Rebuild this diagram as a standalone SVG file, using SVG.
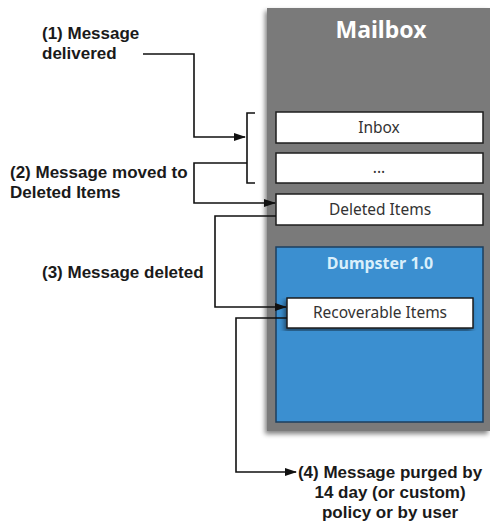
<svg xmlns="http://www.w3.org/2000/svg" width="490" height="522" viewBox="0 0 490 522">
<style>
.lbl{font-family:"Liberation Sans",Arial,sans-serif;font-weight:bold;font-size:17px;fill:#1a1a1a}
.box{fill:#ffffff;stroke:#1e1e1e;stroke-width:1.5}
.bt{font-family:"Noto Sans","Open Sans",sans-serif;font-size:15.5px;fill:#333;text-anchor:middle}
.ln{fill:none;stroke:#111;stroke-width:1.6}
</style>
<defs>
<marker id="ah" markerWidth="12" markerHeight="8" refX="11" refY="4" orient="auto" markerUnits="userSpaceOnUse">
<path d="M0,0 L12,4 L0,8 z" fill="#111"/>
</marker>
<filter id="sh" x="-10%" y="-10%" width="120%" height="120%">
<feGaussianBlur in="SourceAlpha" stdDeviation="2.5"/>
<feOffset dx="-2" dy="3"/>
<feComponentTransfer><feFuncA type="linear" slope="0.5"/></feComponentTransfer>
<feMerge><feMergeNode/><feMergeNode in="SourceGraphic"/></feMerge>
</filter>
</defs>
<g id="mailbox">
<rect x="267" y="8" width="223" height="423" fill="#7a7a7a" filter="url(#sh)"/>
<text x="381" y="38" font-family="'Noto Sans','Open Sans',sans-serif" font-weight="bold" font-size="23" fill="#ffffff" text-anchor="middle">Mailbox</text>
</g>
<g id="inbox">
<rect class="box" x="276" y="112" width="207" height="31"/>
<text class="bt" x="379" y="133">Inbox</text>
</g>
<g id="other">
<rect class="box" x="276" y="153" width="207" height="30"/>
<text class="bt" x="379" y="173" font-size="10">...</text>
</g>
<g id="deleted">
<rect class="box" x="276" y="194" width="207" height="31"/>
<text class="bt" x="380" y="215">Deleted Items</text>
</g>
<g id="dumpster">
<rect x="276" y="247" width="207" height="175" fill="#3b8fd0" stroke="#1d3f5f" stroke-width="1.5"/>
<text x="380" y="269" font-family="'Noto Sans','Open Sans',sans-serif" font-weight="bold" font-size="16" fill="#d9effb" text-anchor="middle">Dumpster 1.0</text>
</g>
<g id="recoverable">
<rect class="box" x="287" y="298" width="186" height="30" filter="url(#sh)"/>
<text class="bt" x="380" y="318">Recoverable Items</text>
</g>
<g id="bracket">
<path class="ln" d="M255,113 H247 V183 H255" stroke-width="1" stroke="#444"/>
</g>
<g id="labels">
<text class="lbl" x="42" y="39">(1) Message</text>
<text class="lbl" x="42" y="59">delivered</text>
<text class="lbl" x="10" y="178">(2) Message moved to</text>
<text class="lbl" x="10" y="198">Deleted Items</text>
<text class="lbl" x="42" y="278">(3) Message deleted</text>
<text class="lbl" x="390" y="478" text-anchor="middle">(4) Message purged by</text>
<text class="lbl" x="390" y="498" text-anchor="middle">14 day (or custom)</text>
<text class="lbl" x="390" y="518" text-anchor="middle">policy or by user</text>
</g>
<g id="connectors">
<path class="ln" d="M143,54 H194 V137 H245" marker-end="url(#ah)"/>
<path class="ln" d="M247,163 H194 V203 H275" marker-end="url(#ah)"/>
<path class="ln" d="M276,216 H215 V307 H286" marker-end="url(#ah)"/>
<path class="ln" d="M287,318 H236 V472 H296" marker-end="url(#ah)"/>
</g>
</svg>
